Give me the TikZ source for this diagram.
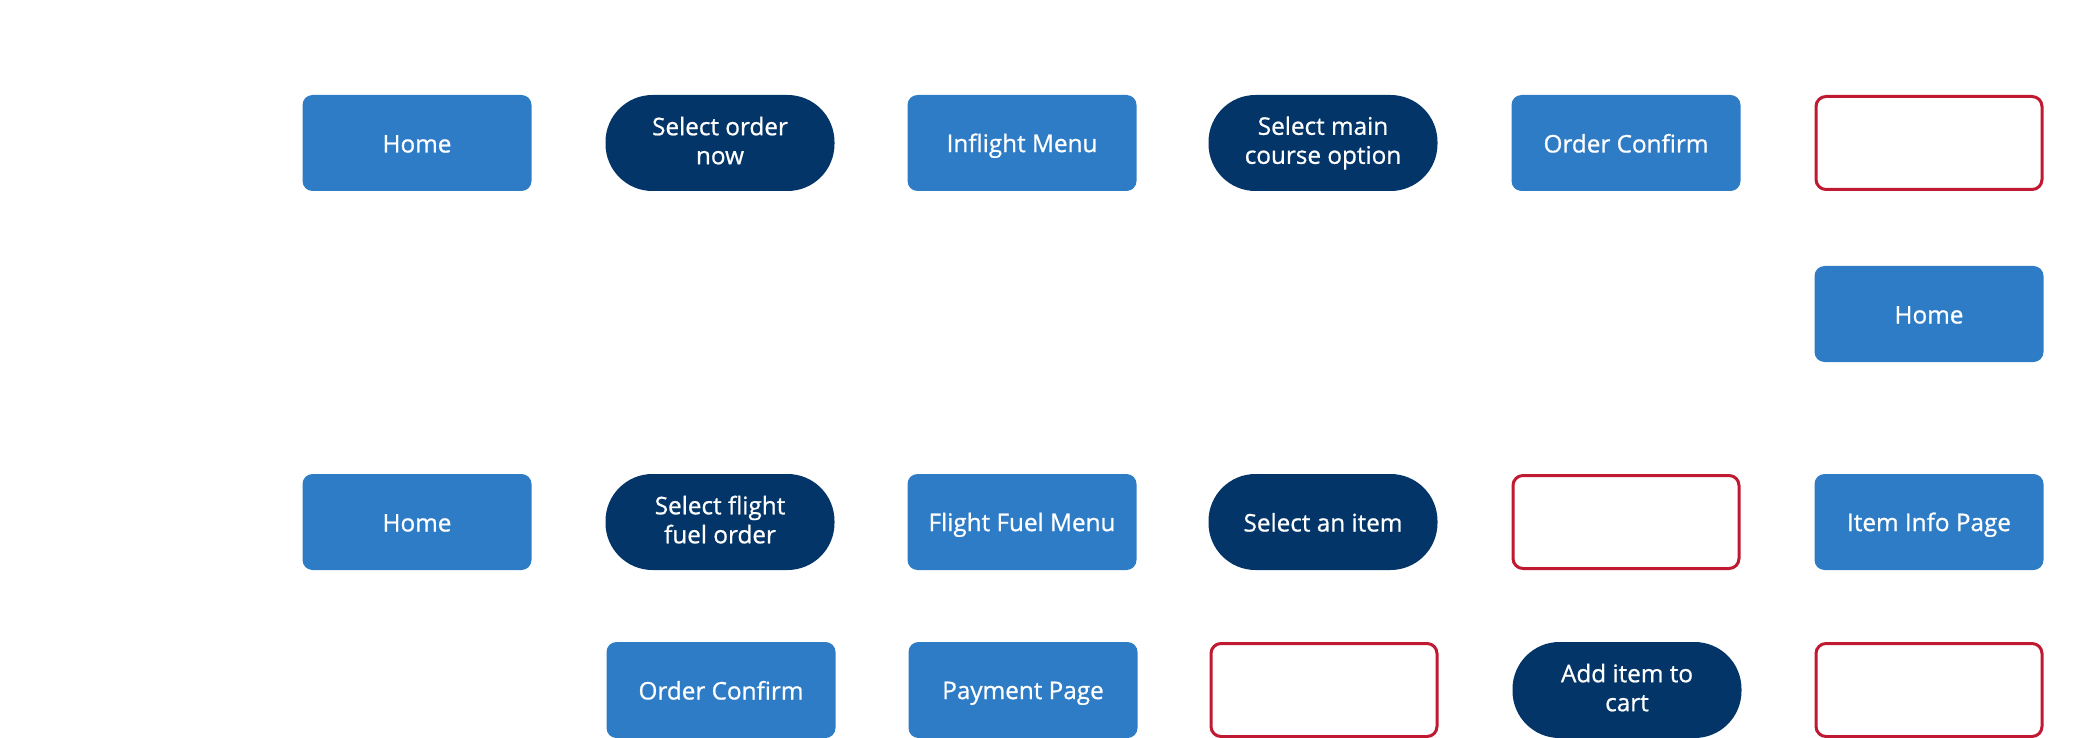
\documentclass[tikz,border=0pt]{standalone}
\usepackage{fontspec}
\setmainfont{Open Sans}
\newfontfamily\labelfont[FakeBold=0.8]{Open Sans}
\newcommand{\lblstrut}{\rule[-5pt]{0pt}{29pt}}
\definecolor{pageblue}{RGB}{46,124,198}
\definecolor{actnavy}{RGB}{3,53,104}
\definecolor{errred}{RGB}{192,26,50}
\begin{document}
\begin{tikzpicture}[x=1pt,y=-1pt,
  box/.style={minimum width=229pt, minimum height=96pt, rounded corners=10pt,
    inner sep=0pt, align=center, text=white,
    font=\labelfont\fontsize{24.3}{29}\selectfont,
    execute at begin node=\lblstrut, execute at end node=\lblstrut},
  page/.style={box, fill=pageblue},
  action/.style={box, fill=actnavy, rounded corners=47pt},
  emptybox/.style={box, draw=errred, line width=3pt, fill=white,
    minimum width=226pt, minimum height=93pt}]
\useasboundingbox (0,0) rectangle (2086,738);
% row 1
\node[page]     (home1)  at (417,143)  {Home};
\node[action]   (selord) at (720,143)  {Select order\\now};
\node[page]     (inmenu) at (1022,143) {Inflight Menu};
\node[action]   (selmain) at (1323,143) {Select main\\course option};
\node[page]     (ordc1)  at (1626,143) {Order Confirm};
\node[emptybox] (e1)     at (1929,143) {};
% row 2
\node[page]     (home2)  at (1929,314) {Home};
% row 3
\node[page]     (home3)  at (417,522)  {Home};
\node[action]   (selfuel) at (720,522) {Select flight\\fuel order};
\node[page]     (fmenu)  at (1022,522) {Flight Fuel Menu};
\node[action]   (selitem) at (1323,522) {Select an item};
\node[emptybox] (e2)     at (1626,522) {};
\node[page]     (info)   at (1929,522) {Item Info Page};
% row 4
\node[page]     (ordc2)  at (721,690)  {Order Confirm};
\node[page]     (pay)    at (1023,690) {Payment Page};
\node[emptybox] (e3)     at (1324,690) {};
\node[action]   (addcart) at (1627,690) {Add item to\\cart};
\node[emptybox] (e4)     at (1929,690) {};
\end{tikzpicture}
\end{document}
